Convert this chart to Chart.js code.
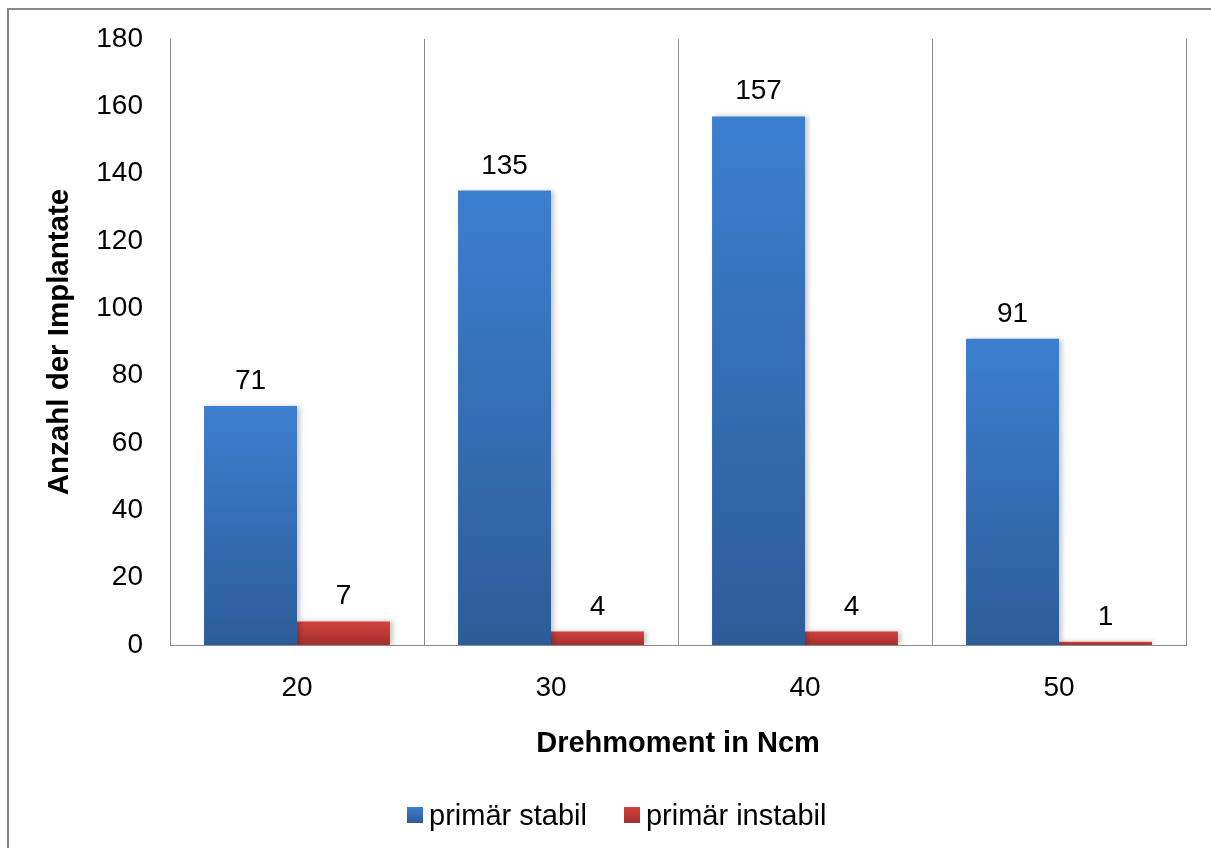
<!DOCTYPE html>
<html>
<head>
<meta charset="utf-8">
<script src="https://cdn.jsdelivr.net/npm/chart.js@4.4.1/dist/chart.umd.min.js"></script>
<style>
  html, body { margin: 0; padding: 0; background: #fff; overflow: hidden; }
  .frame {
    position: absolute; left: 7px; top: 8px; width: 1230px; height: 870px;
    border: 2px solid #888; box-sizing: border-box;
  }
  .wrap { position: absolute; left: 0; top: 0; width: 1211px; height: 848px; }
  .legend {
    position: absolute; top: 797px; left: 407px; height: 36px;
    font: 29px 'Liberation Sans', Arial, sans-serif; color: #000;
    display: flex; align-items: center; white-space: nowrap;
  }
  .legend .item { display: flex; align-items: center; }
  .legend .item + .item { margin-left: 37px; }
  .legend .box { width: 16px; height: 16px; margin-right: 6px; }
</style>
</head>
<body>
<div class="frame"></div>
<div class="wrap"><canvas id="implantChart" width="1211" height="848"></canvas></div>
<div class="legend" id="legend"></div>
<script>
const torqueLabels = ["20", "30", "40", "50"];
const stableCounts = [71, 135, 157, 91];
const unstableCounts = [7, 4, 4, 1];
const yTicks = [0, 20, 40, 60, 80, 100, 120, 140, 160, 180];

const seriesNames = ["primär stabil", "primär instabil"];
const seriesTop = ["#3c7fd0", "#d4413d"];
const seriesBottom = ["#2d5c98", "#a2302d"];

const FONT = "'Liberation Sans', Arial, sans-serif";

// vertical gradient per bar, light on top, dark at the base
function barGradient(top, bottom) {
  return function (context) {
    const chart = context.chart;
    const y = chart.scales.y;
    if (!y || context.parsed === undefined) return bottom;
    const yTop = y.getPixelForValue(context.parsed.y);
    const yBase = y.getPixelForValue(0);
    if (!isFinite(yTop) || !isFinite(yBase) || yTop === yBase) return bottom;
    const g = chart.ctx.createLinearGradient(0, yTop, 0, yBase);
    g.addColorStop(0, top);
    g.addColorStop(1, bottom);
    return g;
  };
}

const barShadow = {
  id: "barShadow",
  beforeDatasetsDraw(chart) {
    const ctx = chart.ctx;
    ctx.save();
    ctx.shadowColor = "rgba(0,0,0,0.22)";
    ctx.shadowBlur = 5;
    ctx.shadowOffsetX = 3;
    ctx.shadowOffsetY = 0;
  },
  afterDatasetsDraw(chart) {
    chart.ctx.restore();
  }
};

const valueLabels = {
  id: "valueLabels",
  afterDatasetsDraw(chart) {
    const ctx = chart.ctx;
    ctx.save();
    ctx.font = "28px " + FONT;
    ctx.fillStyle = "#000";
    ctx.textAlign = "center";
    ctx.textBaseline = "alphabetic";
    chart.data.datasets.forEach((ds, i) => {
      chart.getDatasetMeta(i).data.forEach((bar, j) => {
        ctx.fillText(String(ds.data[j]), bar.x, bar.y - 17);
      });
    });
    ctx.restore();
  }
};

const chart = new Chart(document.getElementById("implantChart"), {
  type: "bar",
  data: {
    labels: torqueLabels,
    datasets: seriesNames.map((name, i) => ({
      label: name,
      data: i === 0 ? stableCounts : unstableCounts,
      backgroundColor: barGradient(seriesTop[i], seriesBottom[i]),
      categoryPercentage: 0.732,
      barPercentage: 1
    }))
  },
  options: {
    responsive: false,
    animation: false,
    layout: { padding: { left: 20, right: 25, top: 39, bottom: 75 } },
    plugins: {
      tooltip: { enabled: false },
      legend: { display: false }
    },
    scales: {
      x: {
        grid: { display: true, offset: true, color: "#8a8a8a", lineWidth: 1, drawTicks: false },
        border: { display: true, color: "#8a8a8a", width: 1 },
        ticks: { font: { family: FONT, size: 28 }, color: "#000", padding: 26 },
        title: {
          display: true,
          text: "Drehmoment in Ncm",
          font: { family: FONT, size: 29, weight: "bold" },
          color: "#000",
          padding: { top: 0, bottom: 12 }
        },
        afterFit(scale) {
          scale.height = 128;
          scale.paddingLeft = 0;
          scale.paddingRight = 0;
        }
      },
      y: {
        min: 0,
        max: 180,
        afterBuildTicks(scale) { scale.ticks = yTicks.map(v => ({ value: v })); },
        grid: { display: false, drawTicks: false },
        border: { display: true, color: "#8a8a8a", width: 1 },
        ticks: { font: { family: FONT, size: 28 }, color: "#000", padding: 27 },
        title: {
          display: true,
          text: "Anzahl der Implantate",
          font: { family: FONT, size: 29.5, weight: "bold" },
          color: "#000",
          padding: { top: 22, bottom: 0 }
        },
        afterFit(scale) {
          scale.width = 150;
          scale.paddingTop = 0;
          scale.paddingBottom = 0;
        }
      }
    }
  },
  plugins: [barShadow, valueLabels]
});

// legend row under the axis title
const legend = document.getElementById("legend");
chart.data.datasets.forEach((ds, i) => {
  const item = document.createElement("span");
  item.className = "item";
  const box = document.createElement("span");
  box.className = "box";
  box.style.background = "linear-gradient(" + seriesTop[i] + ", " + seriesBottom[i] + ")";
  const text = document.createElement("span");
  text.textContent = ds.label;
  item.append(box, text);
  legend.append(item);
});
</script>
</body>
</html>
